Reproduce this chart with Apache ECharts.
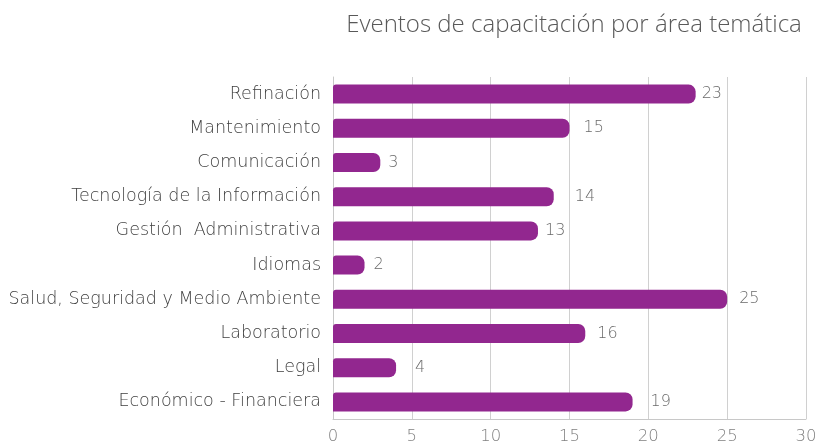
<!DOCTYPE html>
<html><head><meta charset="utf-8">
<script src="https://cdn.jsdelivr.net/npm/echarts@6/dist/echarts.min.js"></script>
<style>html,body{margin:0;padding:0;background:#fff}#c{width:827px;height:446px}</style>
</head><body><div id="c"></div>
<script>
const categories = ["Refinación","Mantenimiento","Comunicación","Tecnología de la Información","Gestión  Administrativa","Idiomas","Salud, Seguridad y Medio Ambiente","Laboratorio","Legal","Económico - Financiera"];
const values = [23,15,3,14,13,2,25,16,4,19];
const xTicks = [0,5,10,15,20,25,30];

const F = 'DejaVu Sans';
// label gaps (style only) as seen in the reference
const labelGaps = [6,14,8,21,7,9,12,12,19,18];
const chart = echarts.init(document.getElementById('c'));
chart.setOption({
  animation:false,
  textStyle:{fontFamily:F},
  title:{text:'Eventos de capacitación por área temática',left:569,top:8,textAlign:'center',
    textStyle:{fontFamily:'Open Sans',fontWeight:300,fontSize:24,color:'#595959'}},
  grid:{left:333,right:21,top:77,bottom:27,containLabel:false},
  xAxis:{type:'value',min:xTicks[0],max:xTicks[xTicks.length-1],interval:5,
    axisLine:{show:true,lineStyle:{color:'#c8c8c8'}},axisTick:{show:false},
    splitLine:{lineStyle:{color:'#d0d0d0',width:1}},
    axisLabel:{color:'#808080',fontSize:16.5,margin:9,fontFamily:F,fontWeight:200}},
  yAxis:{type:'category',inverse:true,data:categories,
    axisLine:{show:true,lineStyle:{color:'#c8c8c8'}},axisTick:{show:false},
    axisLabel:{color:'#404040',fontSize:17.5,margin:12,fontFamily:F,fontWeight:200}},
  series:[{type:'bar',barWidth:19,
    data:values.map((v,i)=>({value:v,label:{distance:labelGaps[i]}})),
    itemStyle:{color:'#92278F',borderRadius:[3,7,7,0]},
    label:{show:true,position:'right',distance:8,color:'#6a6a6a',fontSize:16,fontFamily:F,fontWeight:200}}]
});
</script></body></html>
